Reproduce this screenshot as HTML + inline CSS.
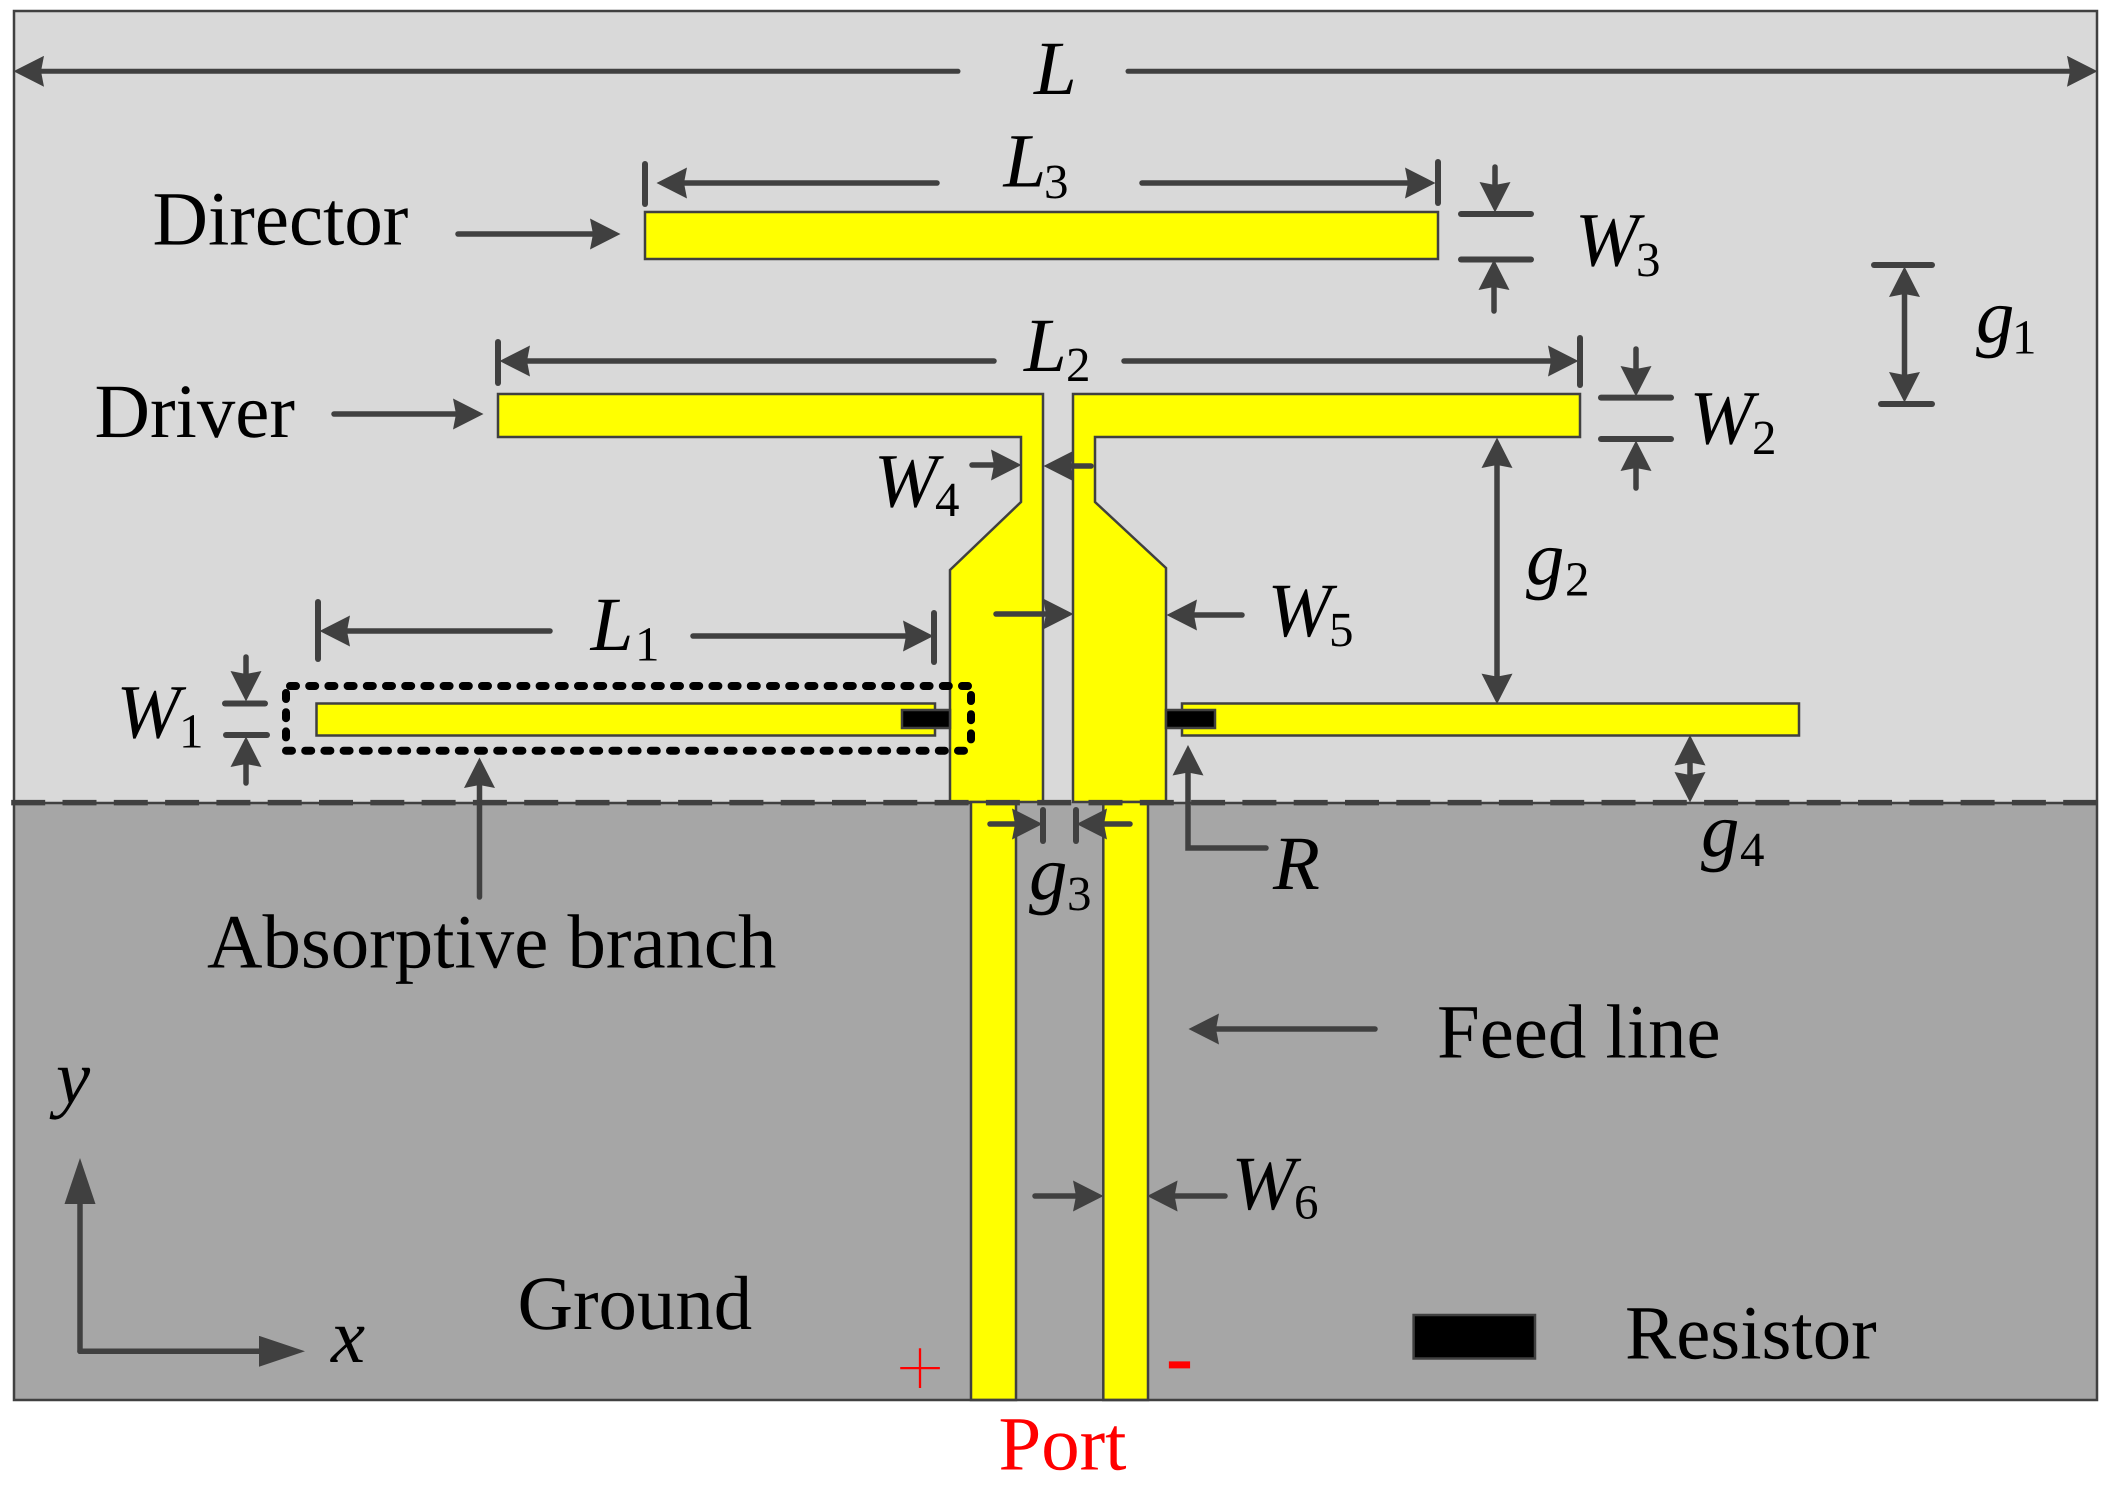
<!DOCTYPE html>
<html lang="en">
<head>
<meta charset="utf-8">
<title>Antenna diagram</title>
<style>
html,body{margin:0;padding:0;background:#fff;width:2113px;height:1488px;overflow:hidden}
svg{display:block}
text{font-family:"Liberation Serif",serif;fill:#000;text-rendering:geometricPrecision}
.m{font-size:76.8px}
.i{font-size:76.8px;font-style:italic}
.s{font-size:49px}
.a line,.a polyline{stroke:#404040;stroke-width:5.5;stroke-linecap:round;fill:none;marker-end:url(#h)}
.b line{stroke:#404040;stroke-width:6;stroke-linecap:round}
.y{fill:#ff0;stroke:#404040;stroke-width:2.5}
.r{fill:#000;stroke:#404040;stroke-width:2.5}
.d line{stroke:#000;stroke-width:8;stroke-linecap:round;stroke-dasharray:6 13.2}
</style>
</head>
<body>
<svg width="2113" height="1488" viewBox="0 0 2113 1488" xmlns="http://www.w3.org/2000/svg">
<defs>
<marker id="h" markerUnits="userSpaceOnUse" markerWidth="31" markerHeight="31" refX="20" refY="15.5" orient="auto-start-reverse" viewBox="0 0 31 31">
<path d="M30.5,15.5 L0,0 L3,15.5 L0,31 Z" fill="#404040"/>
</marker>
<marker id="ax" markerUnits="userSpaceOnUse" markerWidth="47" markerHeight="31" refX="36" refY="15.5" orient="auto" viewBox="0 0 47 31">
<path d="M46,15.5 L0,0 L0,31 Z" fill="#404040"/>
</marker>
</defs>

<rect x="14" y="11" width="2083" height="792" fill="#d9d9d9"/>
<rect x="14" y="802" width="2083" height="598" fill="#a6a6a6"/>

<!-- Director -->
<rect class="y" x="645" y="212" width="793" height="47"/>
<!-- Driver -->
<polygon class="y" points="498,394 1043,394 1043,802 950,802 950,570 1021,502 1021,437 498,437"/>
<polygon class="y" points="1073,394 1580,394 1580,437 1095,437 1095,502 1166,568 1166,802 1073,802"/>
<!-- Branches -->
<rect class="y" x="316.5" y="703.5" width="618.5" height="32"/>
<rect class="y" x="1182" y="703.5" width="617" height="32"/>
<rect class="r" x="902" y="710" width="48" height="18"/>
<rect class="r" x="1166" y="710" width="49" height="18"/>
<!-- Feed lines -->
<rect class="y" x="971" y="802" width="45" height="598"/>
<rect class="y" x="1103.3" y="802" width="44.7" height="598"/>

<!-- frame and ground edge -->
<rect x="14" y="11" width="2083" height="1389" fill="none" stroke="#404040" stroke-width="2.5"/>
<line x1="11.2" y1="802.6" x2="2098" y2="802.6" stroke="#404040" stroke-width="5.5" stroke-dasharray="34 17.3"/>
<line x1="13" y1="803" x2="971" y2="803" stroke="#404040" stroke-width="2.5"/>
<line x1="1148" y1="803" x2="2097" y2="803" stroke="#404040" stroke-width="2.5"/>

<!-- dotted box -->
<g class="d">
<line x1="290" y1="686" x2="974" y2="686"/>
<line x1="971" y1="695" x2="971" y2="745"/>
<line x1="964" y1="750.7" x2="284" y2="750.7"/>
<line x1="286" y1="693" x2="286" y2="745"/>
</g>

<!-- arrows -->
<g class="a">
<line x1="958" y1="71.3" x2="24" y2="71.3" style="stroke-width:5"/>
<line x1="1128" y1="71.3" x2="2087" y2="71.3" style="stroke-width:5"/>
<line x1="937" y1="183" x2="667" y2="183"/>
<line x1="1142" y1="183" x2="1425" y2="183"/>
<line x1="458" y1="234" x2="610" y2="234"/>
<line x1="334" y1="414" x2="473" y2="414"/>
<line x1="994" y1="361" x2="510" y2="361"/>
<line x1="1124" y1="361" x2="1568" y2="361"/>
<line x1="550" y1="631" x2="330" y2="631"/>
<line x1="693" y1="636" x2="923" y2="636"/>
<line x1="972" y1="465" x2="1011" y2="465"/>
<line x1="1091" y1="466" x2="1054" y2="466"/>
<line x1="996" y1="614" x2="1063" y2="614"/>
<line x1="1242" y1="615" x2="1177" y2="615"/>
<line x1="990" y1="824" x2="1032" y2="824"/>
<line x1="1130" y1="824" x2="1087" y2="824"/>
<line x1="1035" y1="1196" x2="1093" y2="1196"/>
<line x1="1225" y1="1196" x2="1157.6" y2="1196"/>
<line x1="1375" y1="1029" x2="1199" y2="1029"/>
<line x1="80" y1="1351.3" x2="295" y2="1351.3" style="marker-end:url(#ax)"/>
<line x1="80" y1="1351.3" x2="80" y2="1168" style="marker-end:url(#ax)"/>
<line x1="479.5" y1="897" x2="479.5" y2="768"/>
<line x1="246" y1="657" x2="246" y2="691"/>
<line x1="246" y1="783" x2="246" y2="747"/>
<line x1="1495" y1="167" x2="1495" y2="202"/>
<line x1="1494" y1="311" x2="1494" y2="270"/>
<line x1="1636" y1="349" x2="1636" y2="386"/>
<line x1="1636" y1="488" x2="1636" y2="451"/>
<line x1="1904.5" y1="277" x2="1904.5" y2="392" marker-start="url(#h)"/>
<line x1="1497" y1="448" x2="1497" y2="693.6" marker-start="url(#h)"/>
<line x1="1690" y1="745.5" x2="1690" y2="792" marker-start="url(#h)"/>
<polyline points="1266,848 1188,848 1188,755.5"/>
</g>

<!-- ticks and bars -->
<g class="b">
<line x1="645" y1="164" x2="645" y2="204"/>
<line x1="1438" y1="162" x2="1438" y2="203"/>
<line x1="498" y1="342" x2="498" y2="383"/>
<line x1="1580" y1="338" x2="1580" y2="385"/>
<line x1="318" y1="602" x2="318" y2="659"/>
<line x1="934" y1="613" x2="934" y2="662"/>
<line x1="1043" y1="810" x2="1043" y2="841"/>
<line x1="1076" y1="810" x2="1076" y2="841"/>
<line x1="225" y1="703.5" x2="265" y2="703.5"/>
<line x1="226" y1="735" x2="267" y2="735"/>
<line x1="1461" y1="214" x2="1531" y2="214"/>
<line x1="1461" y1="259.5" x2="1531" y2="259.5"/>
<line x1="1601" y1="397.6" x2="1671" y2="397.6"/>
<line x1="1601" y1="439" x2="1671" y2="439"/>
<line x1="1874" y1="265" x2="1932" y2="265"/>
<line x1="1881" y1="404" x2="1932" y2="404"/>
</g>

<!-- legend resistor -->
<rect class="r" x="1413.6" y="1315" width="121.4" height="43.5"/>

<!-- labels -->
<text class="m" x="152.5" y="244.5">Director</text>
<text class="m" x="94.5" y="437">Driver</text>
<text class="m" x="207" y="967.5">Absorptive branch</text>
<text class="m" x="517.5" y="1329">Ground</text>
<text class="m" x="1437" y="1057.5">Feed line</text>
<text class="m" x="1625" y="1358.5">Resistor</text>
<text class="m" x="998.5" y="1469.3" style="fill:#f00">Port</text>
<text x="920" y="1398" text-anchor="middle" style="font-size:90px;fill:#f00;stroke:#a6a6a6;stroke-width:2.2">+</text>
<text x="1179.5" y="1383" text-anchor="middle" style="font-size:77px;fill:#f00;stroke:#f00;stroke-width:1.2">-</text>

<text class="i" x="1034" y="94">L</text>
<text class="i" x="1003.5" y="186.5">L</text><text class="s" x="1044" y="198">3</text>
<text class="i" x="1024" y="371">L</text><text class="s" x="1066" y="381">2</text>
<text class="i" x="590.6" y="650">L</text><text class="s" x="635" y="660.5">1</text>

<text class="i" x="116.5" y="737.5">W</text><text class="s" x="179" y="747.7">1</text>
<text class="i" x="874" y="506.7">W</text><text class="s" x="935" y="516">4</text>
<text class="i" x="1575" y="265.7">W</text><text class="s" x="1636" y="276">3</text>
<text class="i" x="1689.5" y="443.6">W</text><text class="s" x="1752" y="454">2</text>
<text class="i" x="1267.5" y="636">W</text><text class="s" x="1329" y="646">5</text>
<text class="i" x="1231.5" y="1209">W</text><text class="s" x="1294" y="1218.5">6</text>

<text class="i" x="1976" y="342">g</text><text class="s" x="2012" y="353.5">1</text>
<text class="i" x="1526" y="584">g</text><text class="s" x="1565" y="595.5">2</text>
<text class="i" x="1029" y="899">g</text><text class="s" x="1067" y="910">3</text>
<text class="i" x="1701" y="856">g</text><text class="s" x="1740" y="866">4</text>

<text class="i" x="1273" y="889">R</text>
<text class="i" x="56" y="1103">y</text>
<text class="i" x="331" y="1362">x</text>
</svg>
</body>
</html>
